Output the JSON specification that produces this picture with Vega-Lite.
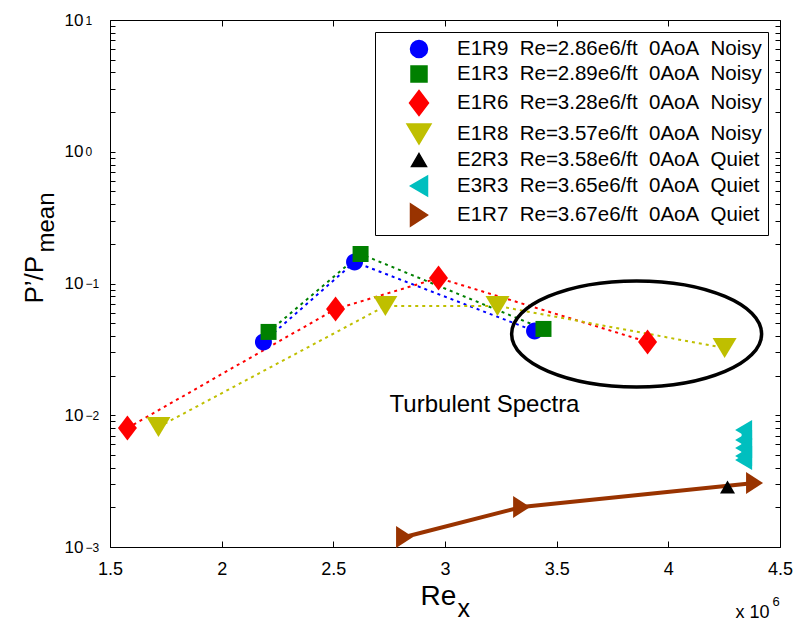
{
  "$schema": "https://vega.github.io/schema/vega-lite/v6.json",
  "width": 670,
  "height": 527,
  "autosize": {"type": "none"},
  "padding": {"left": 110, "top": 20, "right": 18, "bottom": 74},
  "background": "white",
  "datasets": {
    "pts": [
      {"s": "E1R9\u00a0\u00a0Re=2.86e6/ft\u00a0\u00a00AoA\u00a0\u00a0Noisy", "k": 1, "x": 2.187, "y": 0.0360},
      {"s": "E1R9\u00a0\u00a0Re=2.86e6/ft\u00a0\u00a00AoA\u00a0\u00a0Noisy", "k": 2, "x": 2.595, "y": 0.1456},
      {"s": "E1R9\u00a0\u00a0Re=2.86e6/ft\u00a0\u00a00AoA\u00a0\u00a0Noisy", "k": 3, "x": 3.401, "y": 0.0436},
      {"s": "E1R3\u00a0\u00a0Re=2.89e6/ft\u00a0\u00a00AoA\u00a0\u00a0Noisy", "k": 1, "x": 2.210, "y": 0.0429},
      {"s": "E1R3\u00a0\u00a0Re=2.89e6/ft\u00a0\u00a00AoA\u00a0\u00a0Noisy", "k": 2, "x": 2.622, "y": 0.1675},
      {"s": "E1R3\u00a0\u00a0Re=2.89e6/ft\u00a0\u00a00AoA\u00a0\u00a0Noisy", "k": 3, "x": 3.441, "y": 0.0452},
      {"s": "E1R6\u00a0\u00a0Re=3.28e6/ft\u00a0\u00a00AoA\u00a0\u00a0Noisy", "k": 1, "x": 1.578, "y": 0.0080},
      {"s": "E1R6\u00a0\u00a0Re=3.28e6/ft\u00a0\u00a00AoA\u00a0\u00a0Noisy", "k": 2, "x": 2.510, "y": 0.0640},
      {"s": "E1R6\u00a0\u00a0Re=3.28e6/ft\u00a0\u00a00AoA\u00a0\u00a0Noisy", "k": 3, "x": 2.971, "y": 0.1101},
      {"s": "E1R6\u00a0\u00a0Re=3.28e6/ft\u00a0\u00a00AoA\u00a0\u00a0Noisy", "k": 4, "x": 3.907, "y": 0.0360},
      {"s": "E1R8\u00a0\u00a0Re=3.57e6/ft\u00a0\u00a00AoA\u00a0\u00a0Noisy", "k": 1, "x": 1.717, "y": 0.00815},
      {"s": "E1R8\u00a0\u00a0Re=3.57e6/ft\u00a0\u00a00AoA\u00a0\u00a0Noisy", "k": 2, "x": 2.733, "y": 0.0675},
      {"s": "E1R8\u00a0\u00a0Re=3.57e6/ft\u00a0\u00a00AoA\u00a0\u00a0Noisy", "k": 3, "x": 3.235, "y": 0.0675},
      {"s": "E1R8\u00a0\u00a0Re=3.57e6/ft\u00a0\u00a00AoA\u00a0\u00a0Noisy", "k": 4, "x": 4.252, "y": 0.0324},
      {"s": "E2R3\u00a0\u00a0Re=3.58e6/ft\u00a0\u00a00AoA\u00a0\u00a0Quiet", "k": 1, "x": 4.265, "y": 0.00285},
      {"s": "E3R3\u00a0\u00a0Re=3.65e6/ft\u00a0\u00a00AoA\u00a0\u00a0Quiet", "k": 1, "x": 4.337, "y": 0.00773},
      {"s": "E3R3\u00a0\u00a0Re=3.65e6/ft\u00a0\u00a00AoA\u00a0\u00a0Quiet", "k": 2, "x": 4.337, "y": 0.00649},
      {"s": "E3R3\u00a0\u00a0Re=3.65e6/ft\u00a0\u00a00AoA\u00a0\u00a0Quiet", "k": 3, "x": 4.337, "y": 0.00564},
      {"s": "E3R3\u00a0\u00a0Re=3.65e6/ft\u00a0\u00a00AoA\u00a0\u00a0Quiet", "k": 4, "x": 4.337, "y": 0.00491},
      {"s": "E3R3\u00a0\u00a0Re=3.65e6/ft\u00a0\u00a00AoA\u00a0\u00a0Quiet", "k": 5, "x": 4.337, "y": 0.00457},
      {"s": "E1R7\u00a0\u00a0Re=3.67e6/ft\u00a0\u00a00AoA\u00a0\u00a0Quiet", "k": 1, "x": 2.819, "y": 0.00119},
      {"s": "E1R7\u00a0\u00a0Re=3.67e6/ft\u00a0\u00a00AoA\u00a0\u00a0Quiet", "k": 2, "x": 3.343, "y": 0.00201},
      {"s": "E1R7\u00a0\u00a0Re=3.67e6/ft\u00a0\u00a00AoA\u00a0\u00a0Quiet", "k": 3, "x": 4.386, "y": 0.00306}
    ]
  },
  "data": {"name": "pts"},
  "layer": [
    {
      "transform": [{"filter": "indexof(datum.s, 'Noisy') >= 0"}],
      "mark": {"type": "line", "strokeDash": [3, 4], "strokeWidth": 2},
      "encoding": {
        "x": {"field": "x", "type": "quantitative", "scale": {"domain": [1.5, 4.5], "nice": false, "zero": false},
          "axis": {"orient": "bottom", "values": [1.5, 2, 2.5, 3, 3.5, 4, 4.5], "labelExpr": "datum.value + ''", "tickSize": -6, "labelPadding": 19, "labelFontSize": 18,
            "title": "Re", "titleFontSize": 28, "titleX": 328, "titleY": 57, "titleAlign": "center", "titleBaseline": "alphabetic", "titleAngle": 0}},
        "y": {"field": "y", "type": "quantitative", "scale": {"type": "log", "domain": [0.001, 10], "nice": false},
          "axis": {"orient": "left", "values": [0.001,0.002,0.003,0.004,0.005,0.006,0.007,0.008,0.009,0.01,0.02,0.03,0.04,0.05,0.06,0.07,0.08,0.09,0.1,0.2,0.3,0.4,0.5,0.6,0.7,0.8,0.9,1,2,3,4,5,6,7,8,9,10],
            "labelExpr": "abs(log(datum.value)/LN10 - round(log(datum.value)/LN10)) < 0.01 ? '10' : ''",
            "tickSize": -5, "labelPadding": 32, "labelFontSize": 17, "labelBaseline": "middle", "labelDy": 2, "title": null}},
        "color": {"field": "s", "type": "nominal"},
        "order": {"field": "k"}
      }
    },
    {
      "transform": [{"filter": "indexof(datum.s, 'Quiet') >= 0"}],
      "mark": {"type": "line", "strokeWidth": 4},
      "encoding": {
        "x": {"field": "x", "type": "quantitative", "scale": {"domain": [1.5, 4.5], "nice": false, "zero": false},
          "axis": {"orient": "bottom", "domain": false, "ticks": false, "labels": false, "title": "x", "titleFontSize": 25, "titleX": 347, "titleY": 69, "titleAlign": "left", "titleBaseline": "alphabetic", "titleAngle": 0}},
        "y": {"field": "y", "type": "quantitative", "scale": {"type": "log", "domain": [0.001, 10], "nice": false},
          "axis": {"orient": "left", "values": [0.001, 0.01, 0.1, 1, 10], "domain": false, "ticks": false,
            "labelExpr": "format(round(log(datum.value)/LN10), 'd')", "labelAlign": "left", "labelPadding": 25, "labelFontSize": 12, "labelBaseline": "middle", "labelDy": -7, "title": null}},
        "color": {"field": "s", "type": "nominal"},
        "order": {"field": "k"}
      }
    },
    {
      "mark": {"type": "point", "filled": true, "size": 400, "opacity": 1, "strokeWidth": 0},
      "encoding": {
        "x": {"field": "x", "type": "quantitative", "scale": {"domain": [1.5, 4.5], "nice": false, "zero": false},
          "axis": {"orient": "top", "values": [1.5, 2, 2.5, 3, 3.5, 4, 4.5], "labels": false, "tickSize": -6,
            "title": "P\u2019/P", "titleFontSize": 26, "titleAngle": -90, "titleX": -68, "titleY": 283, "titleAlign": "left", "titleBaseline": "alphabetic"}},
        "y": {"field": "y", "type": "quantitative", "scale": {"type": "log", "domain": [0.001, 10], "nice": false},
          "axis": {"orient": "right", "values": [0.001,0.002,0.003,0.004,0.005,0.006,0.007,0.008,0.009,0.01,0.02,0.03,0.04,0.05,0.06,0.07,0.08,0.09,0.1,0.2,0.3,0.4,0.5,0.6,0.7,0.8,0.9,1,2,3,4,5,6,7,8,9,10],
            "labels": false, "tickSize": -5, "title": null}},
        "color": {
          "field": "s", "type": "nominal",
          "scale": {
            "domain": [
              "E1R9\u00a0\u00a0Re=2.86e6/ft\u00a0\u00a00AoA\u00a0\u00a0Noisy",
              "E1R3\u00a0\u00a0Re=2.89e6/ft\u00a0\u00a00AoA\u00a0\u00a0Noisy",
              "E1R6\u00a0\u00a0Re=3.28e6/ft\u00a0\u00a00AoA\u00a0\u00a0Noisy",
              "E1R8\u00a0\u00a0Re=3.57e6/ft\u00a0\u00a00AoA\u00a0\u00a0Noisy",
              "E2R3\u00a0\u00a0Re=3.58e6/ft\u00a0\u00a00AoA\u00a0\u00a0Quiet",
              "E3R3\u00a0\u00a0Re=3.65e6/ft\u00a0\u00a00AoA\u00a0\u00a0Quiet",
              "E1R7\u00a0\u00a0Re=3.67e6/ft\u00a0\u00a00AoA\u00a0\u00a0Quiet"
            ],
            "range": ["#0000ff", "#008000", "#ff0000", "#bfbf00", "#000000", "#00bfbf", "#993300"]
          },
          "legend": {
            "orient": "top-right", "offset": 12, "title": null,
            "labelFontSize": 20.5, "labelLimit": 500, "labelColor": "black",
            "fillColor": "white", "strokeColor": "black", "padding": 6, "rowPadding": 2,
            "symbolSize": 400, "symbolOffset": 27, "labelOffset": 27
          }
        },
        "shape": {
          "field": "s", "type": "nominal", "legend": null,
          "scale": {
            "domain": [
              "E1R9\u00a0\u00a0Re=2.86e6/ft\u00a0\u00a00AoA\u00a0\u00a0Noisy",
              "E1R3\u00a0\u00a0Re=2.89e6/ft\u00a0\u00a00AoA\u00a0\u00a0Noisy",
              "E1R6\u00a0\u00a0Re=3.28e6/ft\u00a0\u00a00AoA\u00a0\u00a0Noisy",
              "E1R8\u00a0\u00a0Re=3.57e6/ft\u00a0\u00a00AoA\u00a0\u00a0Noisy",
              "E2R3\u00a0\u00a0Re=3.58e6/ft\u00a0\u00a00AoA\u00a0\u00a0Quiet",
              "E3R3\u00a0\u00a0Re=3.65e6/ft\u00a0\u00a00AoA\u00a0\u00a0Quiet",
              "E1R7\u00a0\u00a0Re=3.67e6/ft\u00a0\u00a00AoA\u00a0\u00a0Quiet"
            ],
            "range": [
              "M 0.85,0 C 0.85,0.47 0.47,0.85 0,0.85 C -0.47,0.85 -0.85,0.47 -0.85,0 C -0.85,-0.47 -0.47,-0.85 0,-0.85 C 0.47,-0.85 0.85,-0.47 0.85,0 Z",
              "M -0.8,-0.8 L 0.8,-0.8 L 0.8,0.8 L -0.8,0.8 Z",
              "M 0,-1.25 L 0.95,0 L 0,1.25 L -0.95,0 Z",
              "M -1.2,-1 L 1.2,-1 L 0,1 Z",
              "M 0,-0.65 L 0.75,0.65 L -0.75,0.65 Z",
              "M -0.85,0 L 0.85,-1 L 0.85,1 Z",
              "M 0.85,0 L -0.85,1.1 L -0.85,-1.1 Z"
            ]
          }
        }
      }
    },
    {
      "data": {"values": [{"x": 3.858, "y": 0.0414}]},
      "mark": {"type": "point", "filled": false, "stroke": "black", "strokeWidth": 3.5, "opacity": 1, "size": 62500,
        "shape": "M 1,0 C 1,0.2342 0.5523,0.424 0,0.424 C -0.5523,0.424 -1,0.2342 -1,0 C -1,-0.2342 -0.5523,-0.424 0,-0.424 C 0.5523,-0.424 1,-0.2342 1,0 Z"},
      "encoding": {
        "x": {"field": "x", "type": "quantitative", "scale": {"domain": [1.5, 4.5], "nice": false, "zero": false},
          "axis": {"orient": "bottom", "domain": false, "ticks": false, "labels": false, "title": "x 10", "titleFontSize": 18, "titleX": 625, "titleY": 70, "titleAlign": "left", "titleBaseline": "alphabetic", "titleAngle": 0}},
        "y": {"field": "y", "type": "quantitative", "scale": {"type": "log", "domain": [0.001, 10], "nice": false}, "axis": null}
      }
    },
    {
      "data": {"values": [{"x": 3.177, "y": 0.01197, "t": "Turbulent Spectra"}]},
      "mark": {"type": "text", "fontSize": 24, "align": "center", "baseline": "middle", "color": "black"},
      "encoding": {
        "x": {"field": "x", "type": "quantitative", "scale": {"domain": [1.5, 4.5], "nice": false, "zero": false},
          "axis": {"orient": "bottom", "domain": false, "ticks": false, "labels": false, "title": "6", "titleFontSize": 13, "titleX": 662, "titleY": 58, "titleAlign": "left", "titleBaseline": "alphabetic", "titleAngle": 0}},
        "y": {"field": "y", "type": "quantitative", "scale": {"type": "log", "domain": [0.001, 10], "nice": false}, "axis": null},
        "text": {"field": "t"}
      }
    },
    {
      "data": {"values": [{"x": 3.177, "y": 0.01197, "t": ""}]},
      "mark": {"type": "text", "fontSize": 1, "color": "black"},
      "encoding": {
        "x": {"field": "x", "type": "quantitative", "scale": {"domain": [1.5, 4.5], "nice": false, "zero": false},
          "axis": {"orient": "top", "domain": false, "ticks": false, "labels": false, "title": "mean", "titleFontSize": 24, "titleAngle": -90, "titleX": -57, "titleY": 232, "titleAlign": "left", "titleBaseline": "alphabetic"}},
        "y": {"field": "y", "type": "quantitative", "scale": {"type": "log", "domain": [0.001, 10], "nice": false}, "axis": null},
        "text": {"field": "t"}
      }
    }
  ],
  "resolve": {"scale": {"x": "shared", "y": "shared"}, "axis": {"x": "independent", "y": "independent"}},
  "config": {
    "font": "Liberation Sans",
    "view": {"stroke": null},
    "axis": {"domainColor": "black", "tickColor": "black", "labelColor": "black", "titleColor": "black", "titleFontWeight": "normal",
      "grid": false, "labelOverlap": false, "labelFlush": false, "labelBound": false, "domainWidth": 1, "tickWidth": 1,
      "labelFont": "Liberation Sans", "titleFont": "Liberation Sans"},
    "legend": {"labelFont": "Liberation Sans"}
  }
}
